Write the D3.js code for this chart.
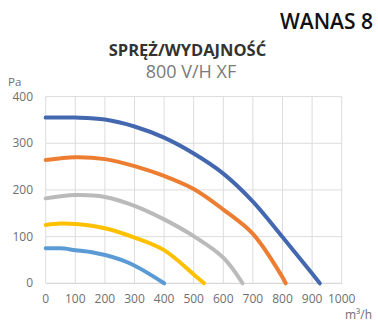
<!DOCTYPE html>
<html><head><meta charset="utf-8">
<script src="https://cdn.jsdelivr.net/npm/d3@7"></script>
<style>html,body{margin:0;padding:0;background:#fff;}svg{display:block;}</style>
</head><body>
<svg id="c" width="378" height="322"></svg>
<script>
const title = "WANAS 8";
const subtitle = "SPRĘŻ/WYDAJNOŚĆ";
const model = "800 V/H XF";
const yUnit = "Pa";
const xUnit = "m³/h";
const xTicks = [0,100,200,300,400,500,600,700,800,900,1000];
const yTicks = [0,100,200,300,400];
const seriesColors = ["#4468b0","#ed7d31","#bababa","#ffc000","#5b9bd5"];
const s1 = [[0,355],[100,355],[200,351],[300,336],[400,312],[500,278],[600,235],[700,175],[800,99],[900,21],[926,0]];
const s2 = [[0,264],[100,270],[200,266],[300,251],[400,230],[500,202],[600,158],[700,106],[800,13],[811,0]];
const s3 = [[0,182],[100,189],[200,185],[300,166],[400,137],[500,101],[600,55],[665,0]];
const s4 = [[0,125],[50,128],[100,127],[200,118],[300,98],[400,71],[500,19],[535,0]];
const s5 = [[0,75],[50,75],[100,71],[160,66],[280,44],[400,0]];
const series = [s1,s2,s3,s4,s5];

const svg = d3.select("#c");
const x = d3.scaleLinear().domain([0,1000]).range([45.7,341.7]);
const y = d3.scaleLinear().domain([0,400]).range([283.3,96.6]);

// grid
svg.append("g").selectAll("line").data(xTicks).join("line")
  .attr("x1",d=>x(d)).attr("x2",d=>x(d)).attr("y1",y(400)).attr("y2",y(0))
  .attr("stroke","#dcdcdc").attr("stroke-width",1);
svg.append("g").selectAll("line").data(yTicks).join("line")
  .attr("x1",x(0)).attr("x2",x(1000)).attr("y1",d=>y(d)).attr("y2",d=>y(d))
  .attr("stroke",d=>d===0?"#cfcfcf":"#dcdcdc").attr("stroke-width",1);

// axes labels
const font = "'Open Sans', sans-serif";
svg.append("g").selectAll("text").data(yTicks).join("text")
  .attr("x",33).attr("y",d=>y(d)+4).attr("text-anchor","end")
  .attr("font-family",font).attr("font-size",12).attr("fill","#6f6f6f").text(d=>d);
svg.append("g").selectAll("text").data(xTicks).join("text")
  .attr("x",d=>x(d)).attr("y",303).attr("text-anchor","middle")
  .attr("font-family",font).attr("font-size",12).attr("fill","#6f6f6f").text(d=>d);
svg.append("text").attr("x",8).attr("y",86).attr("font-family",font).attr("font-size",11.5).attr("fill","#6f6f6f").text(yUnit);
svg.append("text").attr("x",372).attr("y",319).attr("text-anchor","end").attr("font-family",font).attr("font-size",12).attr("fill","#6f6f6f").text(xUnit);

// titles
svg.append("text").attr("x",373).attr("y",29).attr("text-anchor","end").attr("font-family",font).attr("font-weight",600).attr("font-size",21).attr("fill","#111").text(title);
svg.append("text").attr("x",187.5).attr("y",56).attr("text-anchor","middle").attr("font-family",font).attr("font-weight",700).attr("font-size",16.5).attr("fill","#333").text(subtitle);
svg.append("text").attr("x",191).attr("y",78).attr("text-anchor","middle").attr("font-family",font).attr("font-size",18).attr("fill","#7a7a7a").text(model);

// lines
const smooth = d3.line().x(d=>x(d[0])).y(d=>y(d[1])).curve(d3.curveCatmullRom.alpha(0.5));
const mono = d3.line().x(d=>x(d[0])).y(d=>y(d[1])).curve(d3.curveMonotoneX);
svg.append("g").selectAll("path").data(series).join("path")
  .attr("d",(d,i)=> i===4 ? mono(d) : smooth(d)).attr("fill","none")
  .attr("stroke",(d,i)=>seriesColors[i]).attr("stroke-width",4).attr("stroke-linecap","round");
</script>
</body></html>
